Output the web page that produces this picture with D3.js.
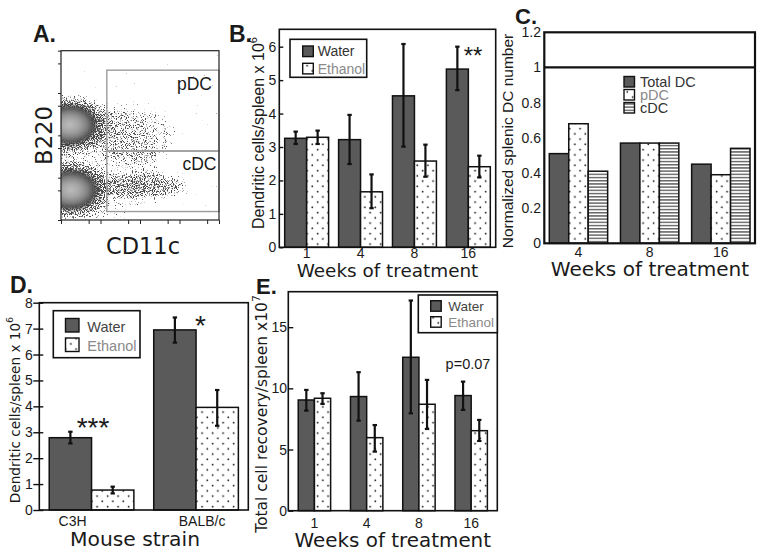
<!DOCTYPE html>
<html><head><meta charset="utf-8">
<script src="https://cdn.jsdelivr.net/npm/d3@7"></script>
<style>body{margin:0;background:#fff}svg{display:block}</style>
</head><body><svg id="c" width="762" height="556"></svg>
<script>
// ---------- DATA ----------
// Panel A (flow cytometry, axis units = log decades)
const flowTicksMajor = [0, 1, 2, 3, 4];
const flowTicksMinor = [0.7, 1.7, 2.7, 3.7];
const flowGates = [
  {name: "pDC", x0: 1.16, x1: 4, y0: 1.63, y1: 3.54},
  {name: "cDC", x0: 1.16, x1: 4, y0: 0.2, y1: 1.63}
];
const flowPopulations = [
  {name: "B220hi", cd11c: 0.22, b220: 2.25, sx: 0.72, sy: 0.5, density: 1, core: true},
  {name: "B220lo", cd11c: 0.25, b220: 0.71, sx: 0.72, sy: 0.5, density: 1, core: true},
  {name: "cDCtail", cd11c: 2.10, b220: 0.80, sx: 1.10, sy: 0.32, density: 0.8},
  {name: "pDCtail", cd11c: 1.80, b220: 2.00, sx: 1.10, sy: 0.70, density: 0.5},
  {name: "background", cd11c: 0.9, b220: 1.35, sx: 1.6, sy: 1.4, density: 0.35}
];

// Panel B
const weeksB = ["1", "4", "8", "16"];
const waterB = [3.26, 3.22, 4.53, 5.33];
const waterBErr = [[3.09, 3.46], [2.49, 3.96], [3.01, 6.08], [4.70, 6.00]];
const ethanolB = [3.29, 1.66, 2.58, 2.41];
const ethanolBErr = [[3.09, 3.49], [1.17, 2.18], [2.11, 3.07], [2.09, 2.74]];
const yTicksB = [0, 1, 2, 3, 4, 5, 6];

// Panel C
const weeksC = ["4", "8", "16"];
const totalDC = [0.51, 0.57, 0.45];
const pDCnorm = [0.68, 0.57, 0.39];
const cDCnorm = [0.41, 0.57, 0.54];
const yTicksC = [0, 0.2, 0.4, 0.6, 0.8, 1, 1.2];

// Panel D
const strainsD = ["C3H", "BALB/c"];
const waterD = [2.79, 6.95];
const waterDErr = [[2.57, 3.02], [6.46, 7.43]];
const ethanolD = [0.77, 3.96];
const ethanolDErr = [[0.64, 0.90], [3.25, 4.63]];
const yTicksD = [0, 1, 2, 3, 4, 5, 6, 7, 8];

// Panel E
const weeksE = ["1", "4", "8", "16"];
const waterE = [9.05, 9.33, 12.54, 9.41];
const waterEErr = [[8.18, 9.87], [7.36, 11.32], [7.96, 17.18], [8.24, 10.55]];
const ethanolE = [9.19, 5.97, 8.70, 6.54];
const ethanolEErr = [[8.73, 9.60], [4.83, 7.00], [6.68, 10.69], [5.70, 7.42]];
const yTicksE = [0, 5, 10, 15];

// ---------- DRAWING ----------
const FONT = '"Liberation Sans", Arial, Helvetica, sans-serif';
const TFONT = '"DejaVu Sans", Verdana, sans-serif';
const DARK = "#5a5a5a";
const svg = d3.select("#c").attr("font-family", FONT);
const defs = svg.append("defs");

// patterns
const dots = defs.append("pattern").attr("id", "dots").attr("patternUnits", "userSpaceOnUse")
  .attr("width", 10.5).attr("height", 10.5);
dots.append("rect").attr("width", 10.5).attr("height", 10.5).attr("fill", "#fff");
dots.append("circle").attr("cx", 2.6).attr("cy", 2.6).attr("r", 0.9).attr("fill", "#222");
dots.append("circle").attr("cx", 7.85).attr("cy", 7.85).attr("r", 0.9).attr("fill", "#222");
const stripes = defs.append("pattern").attr("id", "stripes").attr("patternUnits", "userSpaceOnUse")
  .attr("width", 6).attr("height", 3.2);
stripes.append("rect").attr("width", 6).attr("height", 3.2).attr("fill", "#fff");
stripes.append("rect").attr("y", 1).attr("width", 6).attr("height", 1.1).attr("fill", "#333");

function label(x, y, txt, size, opts = {}) {
  return svg.append("text").attr("x", x).attr("y", y).attr("font-size", size)
    .attr("font-family", opts.family || null)
    .attr("font-weight", opts.bold ? "bold" : null).attr("fill", opts.fill || "#1a1a1a")
    .attr("text-anchor", opts.anchor || "start").text(txt);
}
function yTitle(x, y, size, main, sup, family) {
  const t = svg.append("text").attr("transform", `translate(${x},${y}) rotate(-90)`)
    .attr("font-family", family || null)
    .attr("text-anchor", "middle").attr("font-size", size).attr("fill", "#1a1a1a");
  t.append("tspan").text(main);
  if (sup) t.append("tspan").attr("dy", -size * 0.45).attr("font-size", size * 0.7).text(sup);
}

function barPanel(o) {
  const g = svg.append("g");
  const x0 = d3.scaleBand().domain(o.categories).range([o.left, o.right])
    .paddingInner(o.padIn).paddingOuter(o.padOut);
  const x1 = d3.scaleBand().domain(d3.range(o.series.length)).range([0, x0.bandwidth()]);
  const y = d3.scaleLinear().domain([0, o.ymax]).range([o.bottom, o.top]);
  const rowsOf = s => o.categories.map((c, i) => ({c, v: s.values[i], e: s.errors ? s.errors[i] : null}));
  o.series.forEach((s, si) => {
    g.append("g").selectAll("rect").data(rowsOf(s)).join("rect")
      .attr("x", d => x0(d.c) + x1(si)).attr("y", d => y(d.v))
      .attr("width", x1.bandwidth()).attr("height", d => y(0) - y(d.v))
      .attr("fill", s.fill).attr("stroke", "#111").attr("stroke-width", o.barStroke || 1.5);
  });
  o.series.forEach((s, si) => {
    if (!s.errors) return;
    const cx = d => x0(d.c) + x1(si) + x1.bandwidth() / 2;
    const eg = g.append("g").attr("stroke", "#111").attr("stroke-width", 2.2);
    const rows = rowsOf(s);
    eg.selectAll("line.v").data(rows).join("line").attr("class", "v")
      .attr("x1", cx).attr("x2", cx).attr("y1", d => y(d.e[0])).attr("y2", d => y(d.e[1]));
    eg.selectAll("line.lo").data(rows).join("line").attr("class", "lo")
      .attr("x1", d => cx(d) - 2.2).attr("x2", d => cx(d) + 2.2).attr("y1", d => y(d.e[0])).attr("y2", d => y(d.e[0]));
    eg.selectAll("line.hi").data(rows).join("line").attr("class", "hi")
      .attr("x1", d => cx(d) - 2.2).attr("x2", d => cx(d) + 2.2).attr("y1", d => y(d.e[1])).attr("y2", d => y(d.e[1]));
  });
  if (o.refLine != null) {
    g.append("line").attr("x1", o.left).attr("x2", o.right).attr("y1", y(o.refLine)).attr("y2", y(o.refLine))
      .attr("stroke", "#111").attr("stroke-width", o.frameStroke);
  }
  g.append("rect").attr("x", o.left).attr("y", o.top).attr("width", o.right - o.left).attr("height", o.bottom - o.top)
    .attr("fill", "none").attr("stroke", "#111").attr("stroke-width", o.frameStroke);
  const ay = g.append("g").attr("transform", `translate(${o.left},0)`)
    .call(d3.axisLeft(y).tickValues(o.yticks).tickFormat(d => String(d))
      .tickSizeOuter(0).tickSizeInner(o.tickOut).tickPadding(o.tickPad));
  ay.select(".domain").remove();
  ay.attr("font-size", o.tickFont).attr("font-family", FONT);
  ay.selectAll(".tick line").attr("x1", o.tickIn).attr("x2", -o.tickOut)
    .attr("stroke", "#111").attr("stroke-width", 1.4);
  ay.selectAll("text").attr("fill", "#1a1a1a");
  const ax = g.append("g").attr("transform", `translate(0,${o.bottom})`)
    .call(d3.axisBottom(x0).tickSize(0).tickPadding(o.xLabelBase - 0.71 * o.xFont));
  ax.select(".domain").remove();
  ax.attr("font-size", o.xFont).attr("font-family", FONT);
  ax.selectAll("text").attr("fill", "#1a1a1a");
  return {g, x0, x1, y, ax};
}

function legend(o) {
  const g = svg.append("g");
  if (o.box) g.append("rect").attr("x", o.box[0]).attr("y", o.box[1]).attr("width", o.box[2]).attr("height", o.box[3])
    .attr("fill", "#fff").attr("stroke", "#111").attr("stroke-width", 1.6);
  o.entries.forEach((e, i) => {
    g.append("rect").attr("x", o.x).attr("y", o.y + i * o.step).attr("width", o.size).attr("height", o.size)
      .attr("fill", e.fill).attr("stroke", "#111").attr("stroke-width", 1.4);
    g.append("text").attr("x", o.tx).attr("y", o.y + i * o.step + o.size - 0.3).attr("font-size", o.font)
      .attr("fill", e.color).text(e.label);
  });
}

// ===== Panel A =====
const xA = d3.scaleLinear().domain([0, 4]).range([61, 219]);
const yA = d3.scaleLinear().domain([0, 4]).range([220, 50.7]);
defs.append("clipPath").attr("id", "clipA").append("rect")
  .attr("x", 61).attr("y", 50.7).attr("width", 158).attr("height", 169.3);
const sp = defs.append("filter").attr("id", "speckle").attr("filterUnits", "userSpaceOnUse")
  .attr("x", 40).attr("y", 30).attr("width", 200).attr("height", 210)
  .attr("color-interpolation-filters", "sRGB");
sp.append("feGaussianBlur").attr("in", "SourceGraphic").attr("stdDeviation", 5).attr("result", "dens");
sp.append("feTurbulence").attr("type", "fractalNoise").attr("baseFrequency", 0.9).attr("numOctaves", 2)
  .attr("seed", 4).attr("result", "noise");
sp.append("feColorMatrix").attr("in", "noise").attr("type", "matrix")
  .attr("values", "0 0 0 0 0  0 0 0 0 0  0 0 0 0 0  1 0 0 0 0").attr("result", "na");
// alpha = 8 * (0.4*D + N - 0.8)
sp.append("feComposite").attr("in", "dens").attr("in2", "na").attr("operator", "arithmetic")
  .attr("k1", 0).attr("k2", 3.2).attr("k3", 8).attr("k4", -6.4).attr("result", "spk");
sp.append("feFlood").attr("flood-color", "#474747").attr("result", "col");
sp.append("feComposite").attr("in", "col").attr("in2", "spk").attr("operator", "in");
const soft = defs.append("filter").attr("id", "soft");
soft.append("feGaussianBlur").attr("stdDeviation", 1.3);
const grad = defs.append("radialGradient").attr("id", "blob");
[[0, "#bdbdbd", 1], [0.35, "#a2a2a2", 1], [0.6, "#808080", 1], [0.8, "#505050", 0.95], [0.92, "#3e3e3e", 0.6], [1, "#3e3e3e", 0]]
  .forEach(s => grad.append("stop").attr("offset", s[0]).attr("stop-color", s[1]).attr("stop-opacity", s[2]));

const plotA = svg.append("g").attr("clip-path", "url(#clipA)");
const pxX = d => xA(d) - xA(0), pxY = d => yA(0) - yA(d);
plotA.append("g").attr("filter", "url(#speckle)").selectAll("ellipse").data(flowPopulations).join("ellipse")
  .attr("cx", d => xA(d.cd11c)).attr("cy", d => yA(d.b220))
  .attr("rx", d => pxX(d.sx) * (d.core ? 1.4 : 1)).attr("ry", d => pxY(d.sy) * (d.core ? 1.35 : 1))
  .attr("fill", "#000").attr("fill-opacity", d => d.density);
plotA.append("g").attr("filter", "url(#soft)").selectAll("ellipse").data(flowPopulations.filter(d => d.core)).join("ellipse")
  .attr("cx", d => xA(d.cd11c)).attr("cy", d => yA(d.b220))
  .attr("rx", d => pxX(d.sx)).attr("ry", d => pxY(d.sy)).attr("fill", "url(#blob)");
svg.append("g").selectAll("rect").data(flowGates).join("rect")
  .attr("x", d => xA(d.x0)).attr("y", d => yA(d.y1)).attr("width", d => xA(d.x1) - xA(d.x0))
  .attr("height", d => yA(d.y0) - yA(d.y1)).attr("fill", "none").attr("stroke", "#9c9c9c").attr("stroke-width", 1.4);
svg.append("rect").attr("x", 61).attr("y", 50.7).attr("width", 158).attr("height", 169.3)
  .attr("fill", "none").attr("stroke", "#222").attr("stroke-width", 1.2);
const aLeft = svg.append("g").attr("transform", "translate(61,0)")
  .call(d3.axisLeft(yA).tickValues(flowTicksMajor.concat(flowTicksMinor)).tickFormat("").tickSizeOuter(0).tickSize(3));
aLeft.select(".domain").remove(); aLeft.selectAll("line").attr("stroke", "#222");
const aBot = svg.append("g").attr("transform", "translate(0,220)")
  .call(d3.axisBottom(xA).tickValues(flowTicksMajor.concat(flowTicksMinor)).tickFormat("").tickSizeOuter(0).tickSize(4));
aBot.select(".domain").remove(); aBot.selectAll("line").attr("stroke", "#222");
label(194.5, 90, flowGates[0].name, 17.5, {anchor: "middle"});
label(199.5, 170, flowGates[1].name, 17.5, {anchor: "middle"});
label(143, 253.5, "CD11c", 22.5, {anchor: "middle", family: TFONT});
yTitle(51.5, 135.5, 22.7, "B220", null, TFONT);

// ===== Panel B =====
barPanel({
  categories: weeksB, left: 279.3, right: 495.7, top: 29.3, bottom: 247.3, ymax: 6.52,
  padIn: 0.185, padOut: 0.1, frameStroke: 1.6,
  series: [{values: waterB, errors: waterBErr, fill: DARK}, {values: ethanolB, errors: ethanolBErr, fill: "url(#dots)"}],
  yticks: yTicksB, tickOut: 0, tickIn: 4, tickPad: 3, tickFont: 14, xFont: 14, xLabelBase: 11
});
legend({box: [290, 39.3, 76.7, 38], x: 302.7, y: 46, size: 10.6, step: 17.3, tx: 317.7, font: 14,
  entries: [{label: "Water", fill: DARK, color: "#333"}, {label: "Ethanol", fill: "url(#dots)", color: "#8a8a8a"}]});
label(473, 64, "**", 24, {anchor: "middle"});
label(387.5, 277.3, "Weeks of treatment", 18.4, {anchor: "middle", family: TFONT});
yTitle(264, 133, 16, "Dendritic cells/spleen x 10", "6");

// ===== Panel C =====
barPanel({
  categories: weeksC, left: 544.3, right: 755, top: 32.3, bottom: 243.3, ymax: 1.2,
  padIn: 0.18, padOut: 0.07, frameStroke: 2.2, refLine: 1,
  series: [{values: totalDC, fill: DARK}, {values: pDCnorm, fill: "url(#dots)"}, {values: cDCnorm, fill: "url(#stripes)"}],
  yticks: yTicksC, tickOut: 0, tickIn: 0, tickPad: 3.3, tickFont: 14, xFont: 14, xLabelBase: 14.2
});
legend({x: 624, y: 76.5, size: 10.5, step: 13, tx: 640, font: 14.5,
  entries: [{label: "Total DC", fill: DARK, color: "#333"}, {label: "pDC", fill: "url(#dots)", color: "#8a8a8a"},
            {label: "cDC", fill: "url(#stripes)", color: "#333"}]});
label(650, 276.3, "Weeks of treatment", 20.1, {anchor: "middle", family: TFONT});
yTitle(513, 141, 15.5, "Normalized splenic DC number");

// ===== Panel D =====
const pD = barPanel({
  categories: strainsD, left: 39.3, right: 248.3, top: 302.7, bottom: 510, ymax: 8,
  padIn: 0.19, padOut: 0.095, frameStroke: 1.6,
  series: [{values: waterD, errors: waterDErr, fill: DARK}, {values: ethanolD, errors: ethanolDErr, fill: "url(#dots)"}],
  yticks: yTicksD, tickOut: 6, tickIn: 4, tickPad: 0.5, tickFont: 14, xFont: 14, xLabelBase: 15.5
});
pD.ax.selectAll(".tick text").attr("dx", (d, i) => i === 0 ? -19 : 6);
legend({box: [53.3, 310.7, 86.7, 47], x: 65.5, y: 318.5, size: 13.5, step: 19.5, tx: 87.3, font: 14.5,
  entries: [{label: "Water", fill: DARK, color: "#444"}, {label: "Ethanol", fill: "url(#dots)", color: "#8a8a8a"}]});
label(93, 437, "***", 28, {anchor: "middle"});
label(200.5, 335, "*", 28, {anchor: "middle"});
label(135, 545.5, "Mouse strain", 20.3, {anchor: "middle", family: TFONT});
yTitle(19.5, 410, 13.6, "Dendritic cells/spleen x 10", "6", TFONT);

// ===== Panel E =====
barPanel({
  categories: weeksE, left: 288.3, right: 497.3, top: 291.7, bottom: 510.7, ymax: 17.9,
  padIn: 0.38, padOut: 0.19, frameStroke: 1.6,
  series: [{values: waterE, errors: waterEErr, fill: DARK}, {values: ethanolE, errors: ethanolEErr, fill: "url(#dots)"}],
  yticks: yTicksE, tickOut: 0, tickIn: 5, tickPad: 1.3, tickFont: 14, xFont: 14, xLabelBase: 17
});
legend({box: [418.3, 295, 79, 37.7], x: 430.7, y: 300.7, size: 10.5, step: 16, tx: 448.3, font: 13.5,
  entries: [{label: "Water", fill: DARK, color: "#444"}, {label: "Ethanol", fill: "url(#dots)", color: "#8a8a8a"}]});
label(468, 369, "p=0.07", 14.5, {anchor: "middle"});
label(392.8, 547, "Weeks of treatment", 19.9, {anchor: "middle", family: TFONT});
yTitle(267, 414, 15.5, "Total cell recovery/spleen x10", "7", TFONT);

// panel letters
label(33, 42, "A.", 23, {bold: true});
label(229, 42, "B.", 23, {bold: true});
label(515, 24, "C.", 22, {bold: true});
label(10, 293, "D.", 23, {bold: true});
label(256, 294, "E.", 22, {bold: true});
</script></body></html>
